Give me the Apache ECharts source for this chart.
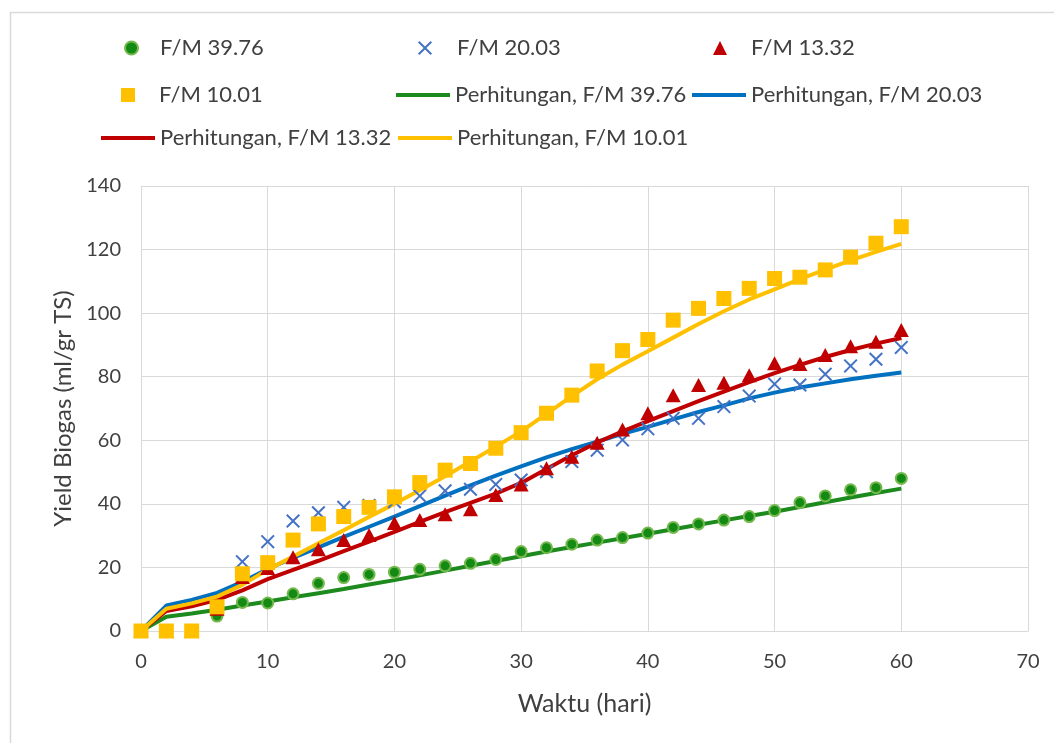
<!DOCTYPE html>
<html>
<head>
<meta charset="utf-8">
<script src="https://cdn.jsdelivr.net/npm/echarts@6/dist/echarts.min.js"></script>
<style>
  html, body { margin: 0; padding: 0; background: #ffffff; }
  #chart { width: 1054px; height: 743px; }
</style>
</head>
<body>
<div id="chart"></div>
<script>
// Sampling days (hari)
const days = [0, 2, 4, 6, 8, 10, 12, 14, 16, 18, 20, 22, 24, 26, 28, 30,
              32, 34, 36, 38, 40, 42, 44, 46, 48, 50, 52, 54, 56, 58, 60];

// Measured biogas yield (ml/gr TS)
const fm3976 = [0, 0, 0, 4.7, 9.0, 8.8, 11.7, 15.0, 16.8, 17.8, 18.5, 19.4, 20.5, 21.3, 22.5, 25.0,
                26.2, 27.3, 28.6, 29.4, 30.8, 32.6, 33.7, 34.9, 36.0, 37.9, 40.4, 42.5, 44.4, 45.1, 48.0];
const fm2003 = [0, 0, 0, 7.0, 21.8, 28.1, 34.6, 37.2, 38.9, 39.5, 40.7, 42.5, 44.1, 44.6, 46.1, 47.5,
                50.1, 53.3, 56.9, 60.1, 63.6, 66.9, 66.9, 70.6, 73.9, 77.7, 77.4, 80.8, 83.4, 85.5, 89.2];
const fm1332 = [0, 0, 0, 7.0, 17.0, 19.8, 23.2, 25.7, 28.6, 30.2, 34.0, 34.9, 36.7, 38.3, 42.8, 46.1,
                51.2, 54.8, 59.2, 63.4, 68.5, 74.2, 77.4, 78.1, 80.5, 84.2, 84.0, 86.8, 89.6, 91.0, 94.7];
const fm1001 = [0, 0, 0, 7.6, 18.0, 21.5, 28.6, 33.7, 36.0, 38.9, 42.2, 46.7, 50.6, 52.7, 57.5, 62.4,
                68.5, 74.2, 81.8, 88.2, 91.7, 97.8, 101.5, 104.6, 107.8, 110.9, 111.3, 113.6, 117.6, 122.0, 127.2];

// Calculated (model) yield curves
const calc3976 = [0, 4.5, 5.5, 6.7, 8.0, 9.3, 10.6, 11.9, 13.2, 14.6, 16.0, 17.5, 19.0, 20.5, 22.0, 23.5,
                  25.0, 26.4, 27.8, 29.2, 30.6, 32.0, 33.4, 34.8, 36.2, 37.5, 39.0, 40.5, 42.0, 43.4, 44.8];
const calc2003 = [0, 8.0, 9.8, 12.0, 15.5, 19.5, 23.0, 26.3, 29.6, 32.8, 36.0, 39.3, 42.6, 45.8, 48.9, 51.8,
                  54.6, 57.2, 59.6, 62.0, 64.2, 66.6, 68.9, 71.0, 73.2, 75.0, 76.6, 77.9, 79.2, 80.3, 81.3];
const calc1332 = [0, 6.3, 7.8, 9.8, 12.8, 16.3, 19.2, 22.1, 25.1, 28.1, 31.2, 34.3, 37.4, 40.3, 43.2, 46.6,
                  51.0, 55.3, 59.3, 62.8, 66.0, 69.2, 72.3, 75.3, 78.3, 81.1, 83.7, 86.2, 88.4, 90.4, 92.2];
const calc1001 = [0, 7.0, 8.7, 10.8, 14.5, 19.3, 23.4, 27.6, 31.7, 35.9, 40.0, 44.3, 48.7, 53.3, 58.0, 62.8,
                  68.3, 73.9, 79.2, 83.8, 88.0, 92.3, 96.6, 100.6, 104.3, 107.5, 110.7, 113.7, 116.6, 119.3, 121.8];

// Axis ticks
const xTicks = { min: 0, max: 70, interval: 10 };
const yTicks = { min: 0, max: 140, interval: 20 };

const names = {
  m1: 'F/M 39.76', m2: 'F/M 20.03', m3: 'F/M 13.32', m4: 'F/M 10.01',
  c1: 'Perhitungan, F/M 39.76', c2: 'Perhitungan, F/M 20.03',
  c3: 'Perhitungan, F/M 13.32', c4: 'Perhitungan, F/M 10.01'
};

const pairs = arr => days.map((d, i) => [d, arr[i]]);

const FONT = 'Lato, "Open Sans", sans-serif';
const TEXT = '#404040';
const GRID = '#d9d9d9';
const crossPath = 'path://M1,0L5,4L9,0L10,1L6,5L10,9L9,10L5,6L1,10L0,9L4,5L0,1Z';

function lineSeries(name, arr, color) {
  return {
    name, type: 'line', data: pairs(arr), symbol: 'none', smooth: false,
    lineStyle: { color, width: 4 }, itemStyle: { color }, z: 2, silent: true
  };
}

const series = [
  lineSeries(names.c1, calc3976, '#1c8a1c'),
  lineSeries(names.c2, calc2003, '#0070c0'),
  lineSeries(names.c3, calc1332, '#c00000'),
  lineSeries(names.c4, calc1001, '#ffc000'),
  { name: names.m1, type: 'scatter', data: pairs(fm3976), symbol: 'circle', symbolSize: 11,
    itemStyle: { color: '#138a13', borderColor: '#74b84e', borderWidth: 2, opacity: 1 }, z: 3 },
  { name: names.m2, type: 'scatter', data: pairs(fm2003), symbol: crossPath, symbolSize: 14,
    itemStyle: { color: '#4472c4', opacity: 1 }, z: 3 },
  { name: names.m3, type: 'scatter', data: pairs(fm1332), symbol: 'triangle', symbolSize: [15, 14],
    itemStyle: { color: '#c00000', opacity: 1 }, z: 3 },
  { name: names.m4, type: 'scatter', data: pairs(fm1001), symbol: 'rect', symbolSize: 15,
    itemStyle: { color: '#ffc000', opacity: 1 }, z: 3 }
];

// One legend block per entry, laid out in three rows.
// textGap pushes the label away from its icon.
function legendItem(name, left, rowY, w, h, icon, textGap, itemStyle) {
  const item = { name, icon };
  if (itemStyle) item.itemStyle = itemStyle;
  return {
    data: [item], left, top: rowY - 13, padding: 0, orient: 'horizontal',
    itemWidth: w, itemHeight: h, selectedMode: false,
    textStyle: { fontFamily: FONT, fontSize: 22, color: TEXT, lineHeight: 26,
                 padding: [0, 0, 0, textGap] }
  };
}

const legend = [
  legendItem(names.m1, 124, 48, 13, 13, 'circle', 17,
             { color: '#138a13', borderColor: '#74b84e', borderWidth: 2 }),
  legendItem(names.m2, 418, 48, 14, 14, crossPath, 20),
  legendItem(names.m3, 713, 48, 14, 14, 'triangle', 19),
  legendItem(names.m4, 121, 95, 14, 14, 'rect', 19),
  legendItem(names.c1, 396, 95, 54, 4, 'rect', 0),
  legendItem(names.c2, 692, 95, 54, 4, 'rect', 0),
  legendItem(names.c3, 101, 138, 54, 4, 'rect', 0),
  legendItem(names.c4, 398, 138, 54, 4, 'rect', 0)
];

const chart = echarts.init(document.getElementById('chart'), null, { renderer: 'canvas' });
chart.setOption({
  animation: false,
  backgroundColor: '#ffffff',
  textStyle: { fontFamily: FONT },
  graphic: [{
    type: 'rect', left: 8, top: 10, silent: true,
    shape: { width: 1100, height: 800 },
    style: { fill: 'none', stroke: '#d9d9d9', lineWidth: 1.5 }
  }],
  legend,
  grid: { left: 141, right: 26, top: 186, bottom: 112, containLabel: false },
  xAxis: {
    type: 'value', min: xTicks.min, max: xTicks.max, interval: xTicks.interval,
    name: 'Waktu (hari)', nameLocation: 'middle', nameGap: 60,
    nameTextStyle: { fontFamily: FONT, fontSize: 25, color: TEXT },
    axisLine: { show: true, lineStyle: { color: GRID, width: 1 } },
    axisTick: { show: false },
    axisLabel: { fontFamily: FONT, fontSize: 20, color: TEXT, margin: 21 },
    splitLine: { show: true, lineStyle: { color: GRID, width: 1 } }
  },
  yAxis: {
    type: 'value', min: yTicks.min, max: yTicks.max, interval: yTicks.interval,
    name: 'Yield Biogas (ml/gr TS)', nameLocation: 'middle', nameGap: 64,
    nameTextStyle: { fontFamily: FONT, fontSize: 24, color: TEXT },
    axisLine: { show: true, lineStyle: { color: GRID, width: 1 } },
    axisTick: { show: false },
    axisLabel: { fontFamily: FONT, fontSize: 20, color: TEXT, margin: 20 },
    splitLine: { show: true, lineStyle: { color: GRID, width: 1 } }
  },
  series
});
</script>
</body>
</html>
